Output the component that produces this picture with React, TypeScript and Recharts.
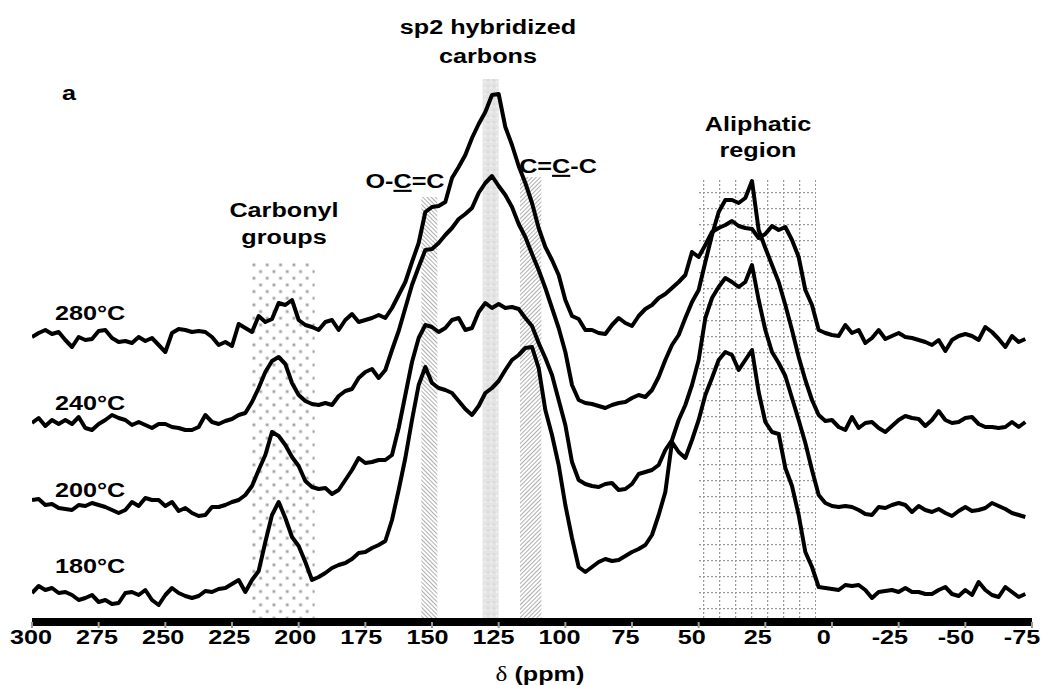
import { LineChart, Line, XAxis, YAxis, ReferenceArea } from "recharts";

const W = 1042;
const H = 685;
const FONT = "Liberation Sans, Arial, sans-serif";

// chemical shift grid (ppm)
const ppm = [
  300, 297.5, 295, 292.5, 290, 287.5, 285, 282.5, 280, 277.5,
  275, 272.5, 270, 267.5, 265, 262.5, 260, 257.5, 255, 252.5,
  250, 247.5, 245, 242.5, 240, 237.5, 235, 232.5, 230, 227.5,
  225, 222.5, 220, 217.5, 215, 212.5, 210, 207.5, 205, 202.5,
  200, 197.5, 195, 192.5, 190, 187.5, 185, 182.5, 180, 177.5,
  175, 172.5, 170, 167.5, 165, 162.5, 160, 157.5, 155, 152.5,
  150, 147.5, 145, 142.5, 140, 137.5, 135, 132.5, 130, 127.5,
  125, 122.5, 120, 117.5, 115, 112.5, 110, 107.5, 105, 102.5,
  100, 97.5, 95, 92.5, 90, 87.5, 85, 82.5, 80, 77.5,
  75, 72.5, 70, 67.5, 65, 62.5, 60, 57.5, 55, 52.5,
  50, 47.5, 45, 42.5, 40, 37.5, 35, 32.5, 30, 27.5,
  25, 22.5, 20, 17.5, 15, 12.5, 10, 7.5, 5, 2.5,
  0, -2.5, -5, -7.5, -10, -12.5, -15, -17.5, -20, -22.5,
  -25, -27.5, -30, -32.5, -35, -37.5, -40, -42.5, -45, -47.5,
  -50, -52.5, -55, -57.5, -60, -62.5, -65, -67.5, -70, -72.5,
];

// intensities (a.u.) of each spectrum, same order as ppm
const i280 = [
  0, 4, 7, 3, 5, -3, -10, 0, -3, -2,
  6, 7, -1, -5, -4, -6, 0, -4, -1, -8,
  -15, 4, 8, 7, 5, 6, 5, 0, -8, -5,
  -9, 13, 9, 5, 21, 15, 18, 34, 32, 37,
  17, 12, 10, 7, 15, 17, 7, 17, 23, 15,
  17, 19, 22, 19, 29, 42, 55, 75, 94, 125,
  130, 131, 135, 159, 170, 182, 199, 213, 225, 242,
  243, 210, 192, 171, 154, 134, 109, 90, 77, 62,
  37, 21, 18, 7, 7, 4, 3, 12, 19, 14,
  11, 21, 28, 32, 39, 43, 49, 55, 62, 85,
  80, 92, 105, 109, 112, 116, 111, 109, 108, 99,
  103, 111, 107, 110, 97, 80, 47, 32, 7, 4,
  2, 1, 12, 4, 7, -6, -1, 7, -2, 1,
  4, 0, -1, -3, -5, -8, -3, -14, -3, 1,
  3, 1, -3, 10, 5, -2, -10, 1, -5, -2,
];

const i240 = [
  2, 7, -1, 5, 1, 5, 1, 8, -3, -5,
  1, 5, 10, 7, 5, 0, 3, 0, -3, 1,
  1, -2, -3, -5, -5, -2, 10, 3, 1, 4,
  6, 10, 12, 23, 37, 53, 64, 68, 61, 42,
  30, 24, 21, 20, 22, 20, 29, 34, 36, 47,
  53, 56, 47, 55, 75, 94, 117, 140, 158, 175,
  176, 182, 190, 197, 206, 211, 217, 232, 242, 249,
  239, 230, 218, 201, 188, 171, 155, 137, 117, 97,
  73, 40, 25, 22, 21, 19, 17, 20, 22, 23,
  27, 30, 28, 35, 48, 65, 80, 90, 107, 123,
  135, 163, 190, 213, 225, 225, 222, 227, 244, 195,
  177, 160, 143, 120, 95, 68, 45, 25, 10, 4,
  5, -2, -5, 8, -3, 2, 3, -3, -7, -1,
  5, 9, 7, 6, -1, 5, 14, 5, 2, 3,
  7, 8, 1, -2, -2, -3, -2, 3, -2, 3,
];

const i200 = [
  0, 1, -5, -4, -8, -9, -10, -5, -6, -3,
  -5, -7, -10, -13, -10, -2, -6, 2, 0, 0,
  -6, -2, -11, -8, -13, -16, -15, -7, -7, -5,
  -2, 0, 5, 14, 30, 45, 68, 64, 55, 43,
  34, 19, 13, 11, 12, 6, 10, 20, 30, 42,
  37, 38, 40, 40, 45, 72, 105, 138, 162, 175,
  173, 168, 172, 180, 182, 170, 172, 188, 197, 192,
  196, 192, 193, 191, 182, 174, 157, 142, 125, 100,
  75, 38, 20, 16, 14, 13, 16, 17, 10, 11,
  16, 26, 28, 30, 35, 50, 60, 80, 95, 115,
  140, 182, 202, 213, 222, 218, 213, 218, 235, 200,
  170, 148, 137, 124, 102, 80, 57, 30, 5, -3,
  -6, -7, -6, -7, -10, -14, -15, -7, -8, -5,
  -3, -5, -12, -6, -10, -12, -9, -13, -16, -11,
  -7, -11, -10, -8, -3, -6, -9, -13, -15, -17,
];

const i180 = [
  4, 11, 7, 9, 4, 5, 2, -3, -1, 2,
  -5, -3, -7, -6, 4, 5, 2, 7, -3, -8,
  2, 9, 4, 1, -1, 1, 6, 5, 8, 9,
  13, 17, 5, 17, 26, 55, 82, 95, 79, 60,
  51, 35, 17, 20, 24, 29, 32, 34, 38, 44,
  45, 49, 52, 56, 77, 107, 139, 177, 212, 230,
  214, 209, 207, 204, 196, 188, 182, 191, 204, 209,
  216, 227, 237, 242, 249, 250, 229, 187, 162, 132,
  92, 59, 30, 25, 30, 35, 38, 36, 37, 41,
  45, 48, 52, 62, 82, 105, 155, 145, 139, 157,
  177, 202, 219, 237, 245, 242, 227, 237, 247, 205,
  175, 165, 163, 129, 111, 82, 45, 30, 10, 9,
  8, 7, 12, 11, 12, 7, -1, 5, 6, 7,
  5, 9, 5, 5, 3, 3, 7, 10, 3, 1,
  7, 2, 15, 7, 2, 0, 10, 5, 0, 3,
];

// vertical stacking offsets of the four spectra
const offsets = { t180: 25, t200: 122, t240: 197, t280: 285 };

const xTicks = [300, 275, 250, 225, 200, 175, 150, 125, 100, 75, 50, 25, 0, -25, -50, -75];

// shaded assignment regions: [from ppm, to ppm, top]
const carbonyl = [217.5, 194, 359];
const ocRegion = [154, 148, 425];
const sp2Region = [131, 125, 543];
const ccRegion = [117, 109, 445];
const aliphatic = [50, 6, 444];

const data = ppm.map((p, i) => ({
  ppm: p,
  t180: offsets.t180 + i180[i],
  t200: offsets.t200 + i200[i],
  t240: offsets.t240 + i240[i],
  t280: offsets.t280 + i280[i],
}));

const Txt = ({ x, y, children, anchor = "middle" }: any) => (
  <text
    transform={`translate(${x},${y}) scale(1.2,1)`}
    textAnchor={anchor}
    fontFamily={FONT}
    fontWeight="bold"
    fontSize={21}
    fill="#000"
  >
    {children}
  </text>
);

const TickLabel = ({ x, y, payload }: any) => {
  const v = payload.value;
  const shift = -1 - (300 - v) * 0.024;
  return <Txt x={x + shift} y={y + 14}>{v}</Txt>;
};

export default function App() {
  const series = ["t180", "t200", "t240", "t280"];
  return (
    <div style={{ position: "absolute", left: 0, top: 0, width: W, height: H, background: "#fff" }}>
      <LineChart width={W} height={H} data={data} margin={{ top: 2, right: 10, bottom: 0, left: 32 }}>
        <XAxis
          dataKey="ppm"
          type="number"
          domain={[-75, 300]}
          reversed
          allowDataOverflow
          ticks={xTicks}
          interval={0}
          height={63}
          tickSize={6}
          axisLine={{ stroke: "#000", strokeWidth: 8 }}
          tickLine={{ stroke: "#999", strokeWidth: 2 }}
          tick={<TickLabel />}
        />
        <YAxis hide type="number" domain={[0, 620]} allowDataOverflow />
        <ReferenceArea x1={carbonyl[0]} x2={carbonyl[1]} y1={0} y2={carbonyl[2]} fill="url(#dots)" fillOpacity={1} stroke="none" />
        <ReferenceArea x1={ocRegion[0]} x2={ocRegion[1]} y1={0} y2={ocRegion[2]} fill="url(#hatchBack)" fillOpacity={1} stroke="none" />
        <ReferenceArea x1={sp2Region[0]} x2={sp2Region[1]} y1={0} y2={sp2Region[2]} fill="url(#mottle)" fillOpacity={1} stroke="none" />
        <ReferenceArea x1={ccRegion[0]} x2={ccRegion[1]} y1={0} y2={ccRegion[2]} fill="url(#hatchFwd)" fillOpacity={1} stroke="none" />
        <ReferenceArea x1={aliphatic[0]} x2={aliphatic[1]} y1={0} y2={aliphatic[2]} fill="url(#grid)" fillOpacity={1} stroke="none" />
        {series.map((k) => (
          <Line
            key={k}
            dataKey={k}
            type="linear"
            stroke="#000"
            strokeWidth={4}
            strokeLinejoin="round"
            dot={false}
            isAnimationActive={false}
          />
        ))}
      </LineChart>
      <svg width={W} height={H} style={{ position: "absolute", left: 0, top: 0, pointerEvents: "none" }}>
        <defs>
          <pattern id="dots" patternUnits="userSpaceOnUse" x={252} y={263} width={13.33} height={13.33}>
            <rect x={0.5} y={0.5} width={2.8} height={2.8} fill="#a3a3a3" />
            <rect x={7.2} y={7.2} width={2.8} height={2.8} fill="#a3a3a3" />
          </pattern>
          <pattern id="hatchBack" patternUnits="userSpaceOnUse" width={3} height={6} patternTransform="rotate(-45)">
            <rect x={0} y={0} width={0.9} height={6} fill="#a6a6a6" />
          </pattern>
          <pattern id="hatchFwd" patternUnits="userSpaceOnUse" width={3} height={6} patternTransform="rotate(45)">
            <rect x={0} y={0} width={0.9} height={6} fill="#a6a6a6" />
          </pattern>
          <pattern id="mottle" patternUnits="userSpaceOnUse" width={6} height={6}>
            <rect x={0} y={0} width={6} height={6} fill="#e4e4e4" />
            <rect x={1} y={1} width={2} height={2} fill="#d8d8d8" />
            <rect x={4} y={3} width={2} height={2} fill="#eeeeee" />
          </pattern>
          <pattern id="grid" patternUnits="userSpaceOnUse" x={703} y={176} width={16} height={16}>
            <line x1={0.5} y1={0} x2={0.5} y2={16} stroke="#999" strokeWidth={1.5} strokeDasharray="2 2" />
            <line x1={0} y1={0.5} x2={16} y2={0.5} stroke="#999" strokeWidth={1.5} strokeDasharray="2 2" />
          </pattern>
        </defs>
        <Txt x={62} y={100} anchor="start">a</Txt>
        <Txt x={488} y={34}>sp2 hybridized</Txt>
        <Txt x={488} y={63}>carbons</Txt>
        <Txt x={758} y={131}>Aliphatic</Txt>
        <Txt x={758} y={157}>region</Txt>
        <Txt x={284} y={217}>Carbonyl</Txt>
        <Txt x={284} y={244}>groups</Txt>
        <Txt x={405} y={188}>
          O-<tspan textDecoration="underline">C</tspan>=C
        </Txt>
        <Txt x={558} y={173}>
          C=<tspan textDecoration="underline">C</tspan>-C
        </Txt>
        <Txt x={55} y={320} anchor="start">280°C</Txt>
        <Txt x={55} y={410} anchor="start">240°C</Txt>
        <Txt x={55} y={497} anchor="start">200°C</Txt>
        <Txt x={55} y={573} anchor="start">180°C</Txt>
        <text
          transform="translate(540,681) scale(1.2,1)"
          textAnchor="middle"
          fontFamily={FONT}
          fontWeight="bold"
          fontSize={21}
        >
          <tspan fontFamily="Liberation Serif, DejaVu Serif, serif" fontWeight="normal">δ</tspan> (ppm)
        </text>
      </svg>
    </div>
  );
}
